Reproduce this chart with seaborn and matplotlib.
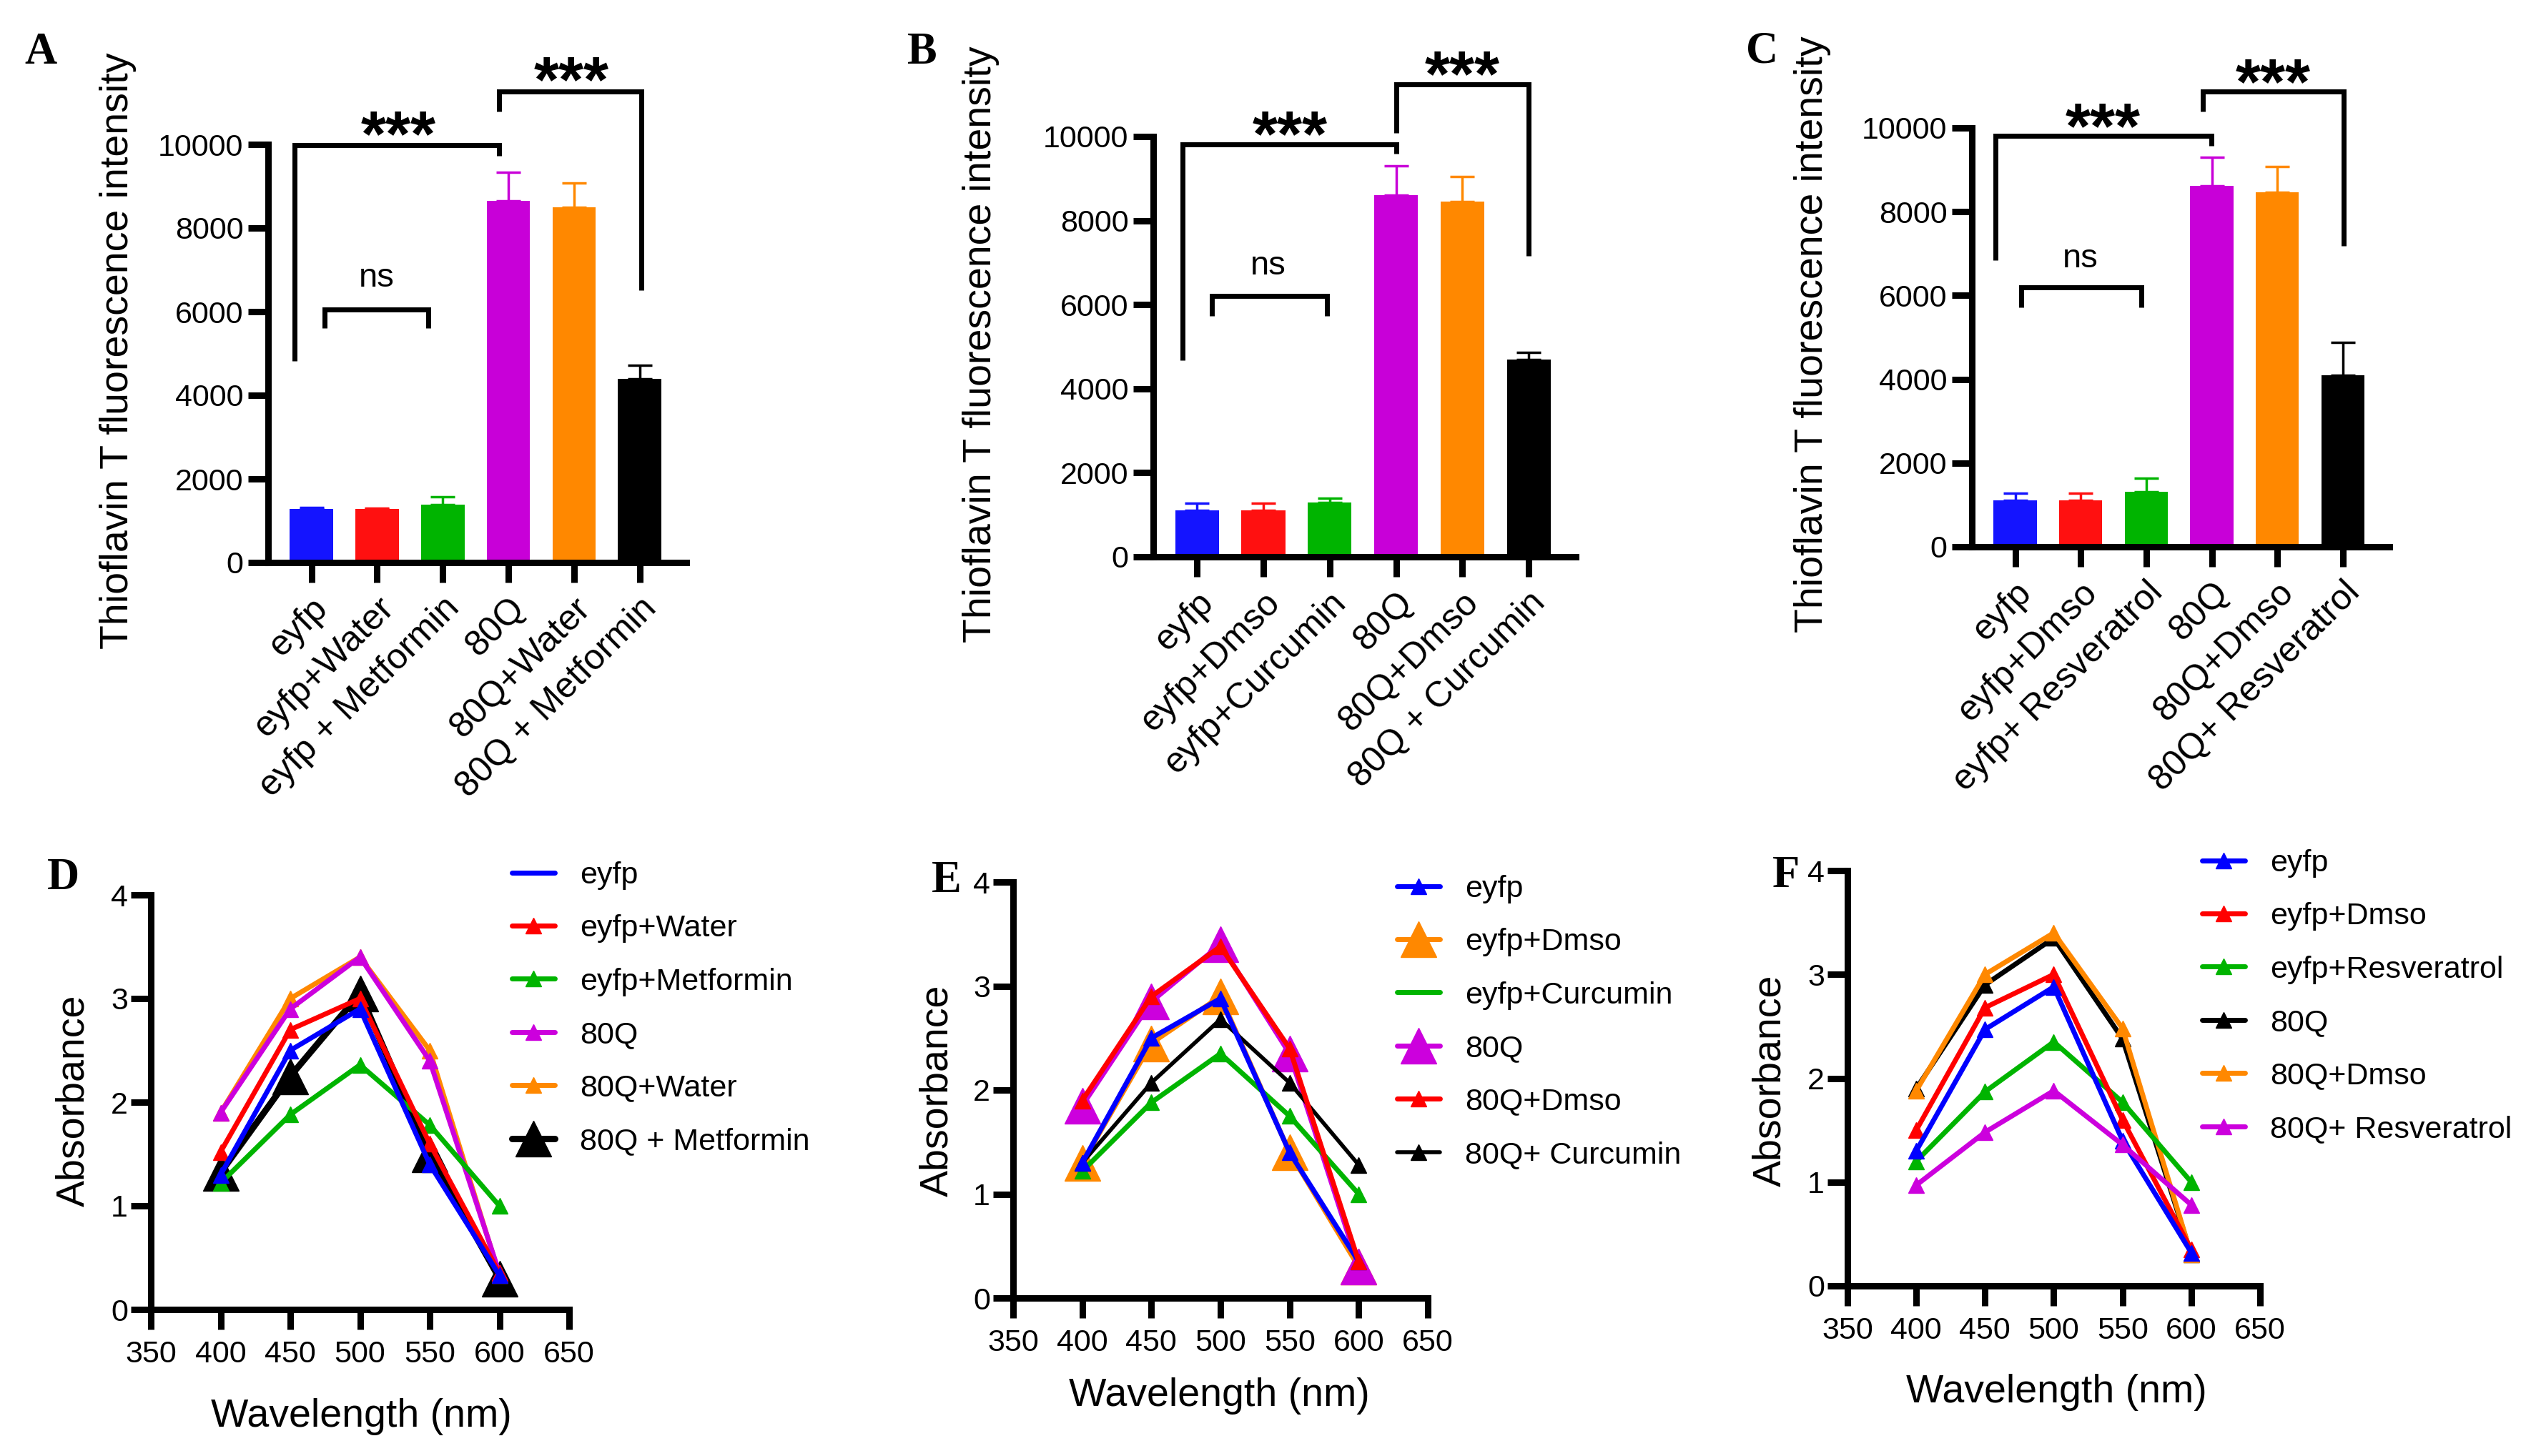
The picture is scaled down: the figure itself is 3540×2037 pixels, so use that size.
import numpy as np
import pandas as pd
import seaborn as sns
import matplotlib.pyplot as plt
import matplotlib.transforms as mtransforms
from matplotlib.lines import Line2D

W, H = 3541, 2037
DPI = 100

# ---- bar panels (A, B, C) ----
labels_a = ["eyfp", "eyfp+Water", "eyfp + Metformin", "80Q", "80Q+Water", "80Q + Metformin"]
means_a = [1280, 1280, 1380, 8650, 8500, 4400]
errs_a = [30, 25, 200, 690, 575, 320]

labels_b = ["eyfp", "eyfp+Dmso", "eyfp+Curcumin", "80Q", "80Q+Dmso", "80Q + Curcumin"]
means_b = [1100, 1100, 1300, 8610, 8460, 4690]
errs_b = [180, 180, 100, 690, 585, 180]

labels_c = ["eyfp", "eyfp+Dmso", "eyfp+ Resveratrol", "80Q", "80Q+Dmso", "80Q+ Resveratrol"]
means_c = [1110, 1110, 1320, 8620, 8470, 4100]
errs_c = [170, 170, 320, 680, 600, 780]

bar_colors = ["#1414ff", "#ff1010", "#00b400", "#c800d8", "#ff8800", "#000000"]

# significance brackets: label, x_left, x_right, y_top, y_left_end, y_right_end, text_x, text_y
sig_a = [("***", -0.26, 2.86, 9975, 4820, 9735, 1.32, 10600),
         ("***", 2.86, 5.02, 11270, 10790, 6520, 3.96, 11900),
         ("ns", 0.20, 1.78, 6055, 5600, 5600, 0.99, 6800)]
sig_b = [("***", -0.22, 3.00, 9820, 4680, 9600, 1.40, 10415),
         ("***", 3.00, 5.00, 11240, 10080, 7160, 4.00, 11850),
         ("ns", 0.22, 1.96, 6200, 5725, 5725, 1.07, 6920)]
sig_c = [("***", -0.30, 2.99, 9820, 6850, 9580, 1.34, 10400),
         ("***", 2.86, 5.01, 10875, 10400, 7190, 3.94, 11460),
         ("ns", 0.09, 1.93, 6200, 5725, 5725, 1.00, 6890)]

# ---- absorbance panels (D, E, F) ----
wavelength = [400, 450, 500, 550, 600]

names_d = ["eyfp", "eyfp+Water", "eyfp+Metformin", "80Q", "80Q+Water", "80Q + Metformin"]
abs_d = [[1.30, 2.50, 2.90, 1.40, 0.33],
         [1.52, 2.70, 3.00, 1.60, 0.35],
         [1.22, 1.88, 2.36, 1.78, 1.00],
         [1.90, 2.90, 3.40, 2.40, 0.35],
         [1.90, 3.00, 3.40, 2.50, 0.33],
         [1.32, 2.25, 3.05, 1.50, 0.30]]
colors_d = ["#0000ff", "#ff0000", "#00b400", "#cc00dd", "#ff8800", "#000000"]

names_e = ["eyfp", "eyfp+Dmso", "eyfp+Curcumin", "80Q", "80Q+Dmso", "80Q+ Curcumin"]
abs_e = [[1.30, 2.50, 2.88, 1.40, 0.35],
         [1.30, 2.45, 2.90, 1.40, 0.30],
         [1.22, 1.88, 2.35, 1.75, 1.00],
         [1.85, 2.85, 3.40, 2.35, 0.30],
         [1.90, 2.90, 3.38, 2.40, 0.35],
         [1.30, 2.07, 2.68, 2.07, 1.28]]
colors_e = ["#0000ff", "#ff8800", "#00b400", "#cc00dd", "#ff0000", "#000000"]

names_f = ["eyfp", "eyfp+Dmso", "eyfp+Resveratrol", "80Q", "80Q+Dmso", "80Q+ Resveratrol"]
abs_f = [[1.30, 2.47, 2.88, 1.40, 0.32],
         [1.50, 2.68, 3.00, 1.60, 0.35],
         [1.20, 1.87, 2.35, 1.77, 1.00],
         [1.90, 2.90, 3.35, 2.38, 0.30],
         [1.88, 3.00, 3.40, 2.48, 0.30],
         [0.97, 1.48, 1.88, 1.36, 0.78]]
colors_f = ["#0000ff", "#ff0000", "#00b400", "#000000", "#ff8800", "#cc00dd"]

SMALL, BIG = 16, 36
# marker size, line width, zorder and legend-marker flag per series
ms_d = [SMALL, SMALL, SMALL, SMALL, SMALL, BIG]
lw_d = [5, 5, 5, 5, 5, 6.5]
z_d = [8, 7, 6, 5, 4, 3]
legmark_d = [False, True, True, True, True, True]
ms_e = [SMALL, BIG, SMALL, BIG, SMALL, SMALL]
lw_e = [5, 5, 5, 5, 5, 4]
z_e = [7, 3, 5, 4, 8, 6]
legmark_e = [True, True, False, True, True, True]
ms_f = [SMALL] * 6
lw_f = [5] * 6
z_f = [7, 6, 5, 3, 4, 8]
legmark_f = [True] * 6

sns.set_theme(style="ticks")
plt.rcParams["font.family"] = ["Liberation Sans", "DejaVu Sans"]
plt.rcParams["text.color"] = "black"
plt.rcParams["axes.labelcolor"] = "black"

fig = plt.figure(figsize=(W / DPI, H / DPI), dpi=DPI)
fig.patch.set_facecolor("white")

TICK_FS = 31
XCAT_FS = 36
LABEL_FS = 40
SPINE_W = 6.5


def px_rect(left, top, right, bottom):
    return [left / W, 1 - bottom / H, (right - left) / W, (bottom - top) / H]


def fig_xy(x, y):
    return x / W, 1 - y / H


def style_axes(ax):
    ax.spines[["top", "right"]].set_visible(False)
    for sp in ["left", "bottom"]:
        ax.spines[sp].set_linewidth(SPINE_W)
        ax.spines[sp].set_color("black")
        ax.spines[sp].set_capstyle("projecting")
    ax.set_facecolor("white")
    ax.tick_params(axis="both", length=20, width=SPINE_W, color="black",
                   labelsize=TICK_FS, labelcolor="black", direction="out")


def bar_panel(rect, labels, means, errs, sig, ylabel_xy):
    ax = fig.add_axes(px_rect(*rect))
    sns.barplot(x=labels, y=means, hue=labels, palette=bar_colors, legend=False,
                width=0.66, saturation=1, linewidth=0, errorbar=None, ax=ax)
    for i, (m, e) in enumerate(zip(means, errs)):
        ax.errorbar(i, m, yerr=[[0], [e]], fmt="none", ecolor=bar_colors[i],
                    elinewidth=2.5, capsize=12, capthick=2.5, zorder=3)
    style_axes(ax)
    ax.set_xlim(-0.66, 5.71)
    ax.set_ylim(0, 10000)
    ax.set_yticks(range(0, 10001, 2000))
    ax.set_xticks(range(len(labels)))
    ax.set_xticklabels(labels, rotation=45, ha="right", va="top",
                       rotation_mode="anchor", fontsize=XCAT_FS)
    ax.tick_params(axis="x", pad=9)
    ax.tick_params(axis="y", pad=5)
    ax.set_xlabel("")
    ax.set_ylabel("Thioflavin T fluorescence intensity", fontsize=LABEL_FS, va="center")
    ax.yaxis.set_label_coords(*fig_xy(*ylabel_xy), transform=fig.transFigure)

    for text, x0, x1, yt, yl, yr, tx, ty in sig:
        ax.plot([x0, x0, x1, x1], [yl, yt, yt, yr], color="black", lw=5,
                solid_joinstyle="miter", solid_capstyle="butt", clip_on=False, zorder=4)
        if text == "***":
            fs, shift, wt = 65, -0.57, "bold"
        else:
            fs, shift, wt = 34, -0.26, "normal"
        tr = mtransforms.offset_copy(ax.transData, fig=fig, y=shift * fs, units="points")
        ax.text(tx, ty, text, transform=tr, fontsize=fs, fontweight=wt,
                ha="center", va="baseline", clip_on=False)
    return ax


def line_panel(rect, names, values, colors, sizes, widths, zorders, legmark,
               ylabel_xy, xlabel_xy, legend_xy):
    ax = fig.add_axes(px_rect(*rect))
    for name, vals, c, ms, lw, z in zip(names, values, colors, sizes, widths, zorders):
        df = pd.DataFrame({"wavelength": wavelength, "absorbance": vals})
        sns.lineplot(data=df, x="wavelength", y="absorbance", ax=ax, color=c,
                     marker="^", markersize=ms, markeredgecolor=c,
                     markeredgewidth=1, linewidth=lw, zorder=z, clip_on=False)
    style_axes(ax)
    ax.set_xlim(350, 650)
    ax.set_ylim(0, 4)
    ax.set_xticks(range(350, 651, 50))
    ax.set_yticks(range(0, 5))
    ax.tick_params(axis="x", pad=11)
    ax.tick_params(axis="y", pad=3)
    ax.set_xlabel("Wavelength (nm)", fontsize=LABEL_FS, va="center")
    ax.set_ylabel("Absorbance", fontsize=LABEL_FS, va="center")
    ax.yaxis.set_label_coords(*fig_xy(*ylabel_xy), transform=fig.transFigure)
    ax.xaxis.set_label_coords(*fig_xy(*xlabel_xy), transform=fig.transFigure)

    handles = []
    for c, ms, lw, show in zip(colors, sizes, widths, legmark):
        handles.append(Line2D([], [], color=c, lw=lw, marker="^" if show else None,
                              markersize=ms, markeredgecolor=c))
    fs_px = TICK_FS * DPI / 72
    lx, ly = legend_xy
    ax.legend(handles, names, loc="upper left",
              bbox_to_anchor=fig_xy(lx, ly - 0.45 * fs_px), bbox_transform=fig.transFigure,
              frameon=False, fontsize=TICK_FS, borderpad=0, borderaxespad=0,
              handlelength=1.4, handletextpad=0.8, labelspacing=0.8)
    return ax


bar_panel((375, 202, 960, 787), labels_a, means_a, errs_a, sig_a, (165, 491))
bar_panel((1613, 191, 2204, 779), labels_b, means_b, errs_b, sig_b, (1372, 482))
bar_panel((2758, 179, 3342, 765), labels_c, means_c, errs_c, sig_c, (2535, 468))

line_panel((211, 1252, 796, 1832), names_d, abs_d, colors_d, ms_d, lw_d, z_d, legmark_d,
           (103, 1540), (505, 1982), (716, 1224))
line_panel((1417, 1234, 1997, 1816), names_e, abs_e, colors_e, ms_e, lw_e, z_e, legmark_e,
           (1311, 1526), (1705, 1953), (1954, 1243))
line_panel((2584, 1218, 3161, 1799), names_f, abs_f, colors_f, ms_f, lw_f, z_f, legmark_f,
           (2476, 1512), (2876, 1948), (3080, 1207))

# panel letters
for letter, (x, y) in zip("ABCDEF", [(57, 74), (1290, 74), (2465, 72),
                                      (88, 1229), (1324, 1233), (2498, 1226)]):
    fig.text(*fig_xy(x, y), letter, fontsize=45, fontweight="bold",
             family=["Liberation Serif", "DejaVu Serif"], ha="center", va="center")

fig.savefig("out.png", dpi=DPI, facecolor="white")
